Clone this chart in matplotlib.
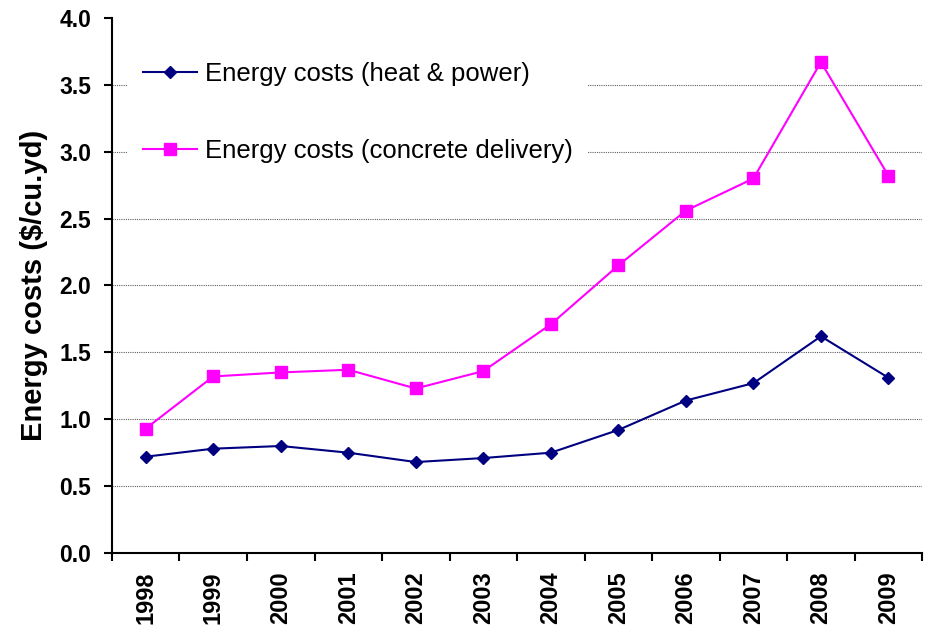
import numpy as np
import matplotlib.pyplot as plt
from matplotlib.ticker import MultipleLocator, FixedLocator, FormatStrFormatter

# ------------------------------------------------------------
# data
# ------------------------------------------------------------
years = ["1998", "1999", "2000", "2001", "2002", "2003",
         "2004", "2005", "2006", "2007", "2008", "2009"]
heat_power = [0.72, 0.78, 0.80, 0.75, 0.68, 0.71,
              0.75, 0.92, 1.14, 1.27, 1.62, 1.31]
concrete_delivery = [0.93, 1.32, 1.35, 1.37, 1.23, 1.36,
                     1.71, 2.15, 2.56, 2.80, 3.67, 2.82]

plt.rcParams["font.family"] = ["Liberation Sans", "DejaVu Sans"]

fig = plt.figure(figsize=(9.25, 6.31), dpi=100)
ax = fig.add_axes([0.121, 0.1236, 0.876, 0.8479])

x = np.arange(len(years))
ax.plot(x, heat_power, color="#000080", lw=1.5, marker="D", ms=6.5,
        label="Energy costs (heat & power)", zorder=3)
ax.plot(x, concrete_delivery, color="#FF00FF", lw=1.5, marker="s", ms=8.5,
        label="Energy costs (concrete delivery)", zorder=3)

ax.set_xlim(-0.5, len(years) - 0.5)
ax.set_ylim(0, 4.0)

# y axis
ax.yaxis.set_major_locator(MultipleLocator(0.5))
ax.yaxis.set_major_formatter(FormatStrFormatter("%.1f"))
ax.tick_params(axis="y", labelsize=16.5, length=6, width=1.5,
               direction="out", pad=9)
for lbl in ax.get_yticklabels():
    lbl.set_fontweight("bold")

# x axis: labels centred, ticks on the category edges
ax.set_xticks(x)
ax.set_xticklabels(years, rotation=90, fontsize=17, fontweight="bold")
ax.xaxis.set_minor_locator(FixedLocator(np.arange(-0.5, len(years), 1.0)))
ax.tick_params(axis="x", which="major", length=0, pad=13)
ax.tick_params(axis="x", which="minor", length=6, width=1.5, direction="out")

for v in np.arange(0.5, 3.51, 0.5):
    ax.axhline(v, color="#606060", lw=0.8, ls=(0, (1, 1)), zorder=1)

for side in ("top", "right"):
    ax.spines[side].set_visible(False)
for side in ("left", "bottom"):
    ax.spines[side].set_linewidth(1.5)

ax.set_ylabel("Energy costs ($/cu.yd)", fontsize=21, fontweight="bold",
              labelpad=8)

leg = ax.legend(loc="upper left", bbox_to_anchor=(-0.006, 0.985), fontsize=18.5,
                frameon=True, fancybox=False, edgecolor="none",
                facecolor="white", framealpha=1, handlelength=2.1,
                labelspacing=2.05, borderpad=0.6, handletextpad=0.3,
                borderaxespad=0.8)
leg.set_zorder(2)

fig.savefig("out.png", dpi=100, facecolor="white")
